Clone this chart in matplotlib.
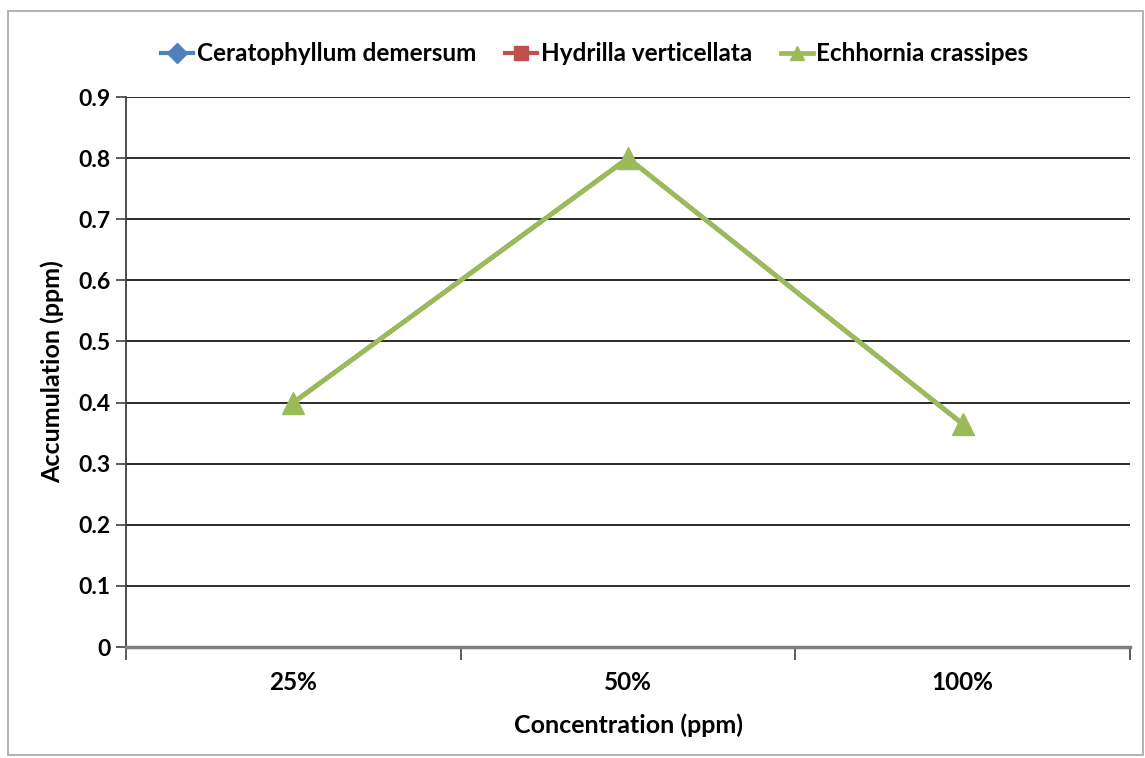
import matplotlib
matplotlib.use("Agg")
import matplotlib.pyplot as plt
import numpy as np

plt.rcParams['font.family'] = ['Lato', 'DejaVu Sans']
plt.rcParams['font.weight'] = 'bold'
plt.rcParams['axes.labelweight'] = 'bold'

categories = ["25%", "50%", "100%"]
ceratophyllum = [0.40, 0.80, 0.365]
hydrilla = [0.40, 0.80, 0.365]
echhornia = [0.40, 0.80, 0.365]

fig = plt.figure(figsize=(11.45, 7.58), dpi=100)
ax = fig.add_axes([0.110, 0.1464, 0.877, 0.7256])

# chart area border
fig.patches.append(plt.Rectangle((0.007, 0.004), 0.991, 0.982, transform=fig.transFigure,
                                 fill=False, edgecolor="#a6a6a6", linewidth=1.2))

x = np.arange(len(categories)) + 0.5
ax.plot(x, ceratophyllum, color="#4F81BD", lw=3, marker="D", ms=5, zorder=3,
        label="Ceratophyllum demersum")
ax.plot(x, hydrilla, color="#C0504D", lw=3, marker="s", ms=5, zorder=3,
        label="Hydrilla verticellata")
ax.plot(x, echhornia, color="#9BBB59", lw=3.4, marker="^", ms=16, zorder=4,
        label="Echhornia crassipes")

ax.set_xlim(0, 3)
ax.set_ylim(0, 0.9)
ax.set_yticks(np.arange(0, 0.91, 0.1))
ax.set_yticklabels(["0"] + ["%.1f" % v for v in np.arange(0.1, 0.91, 0.1)], fontsize=16.5)
ax.set_xticks([0, 1, 2, 3])
ax.set_xticklabels([])
ax.set_xticks(x, minor=True)
ax.set_xticklabels(categories, minor=True, fontsize=17.5)
ax.tick_params(axis="x", which="minor", length=0, pad=17)
ax.tick_params(axis="x", which="major", length=9, width=1.2, color="#404040")
ax.tick_params(axis="y", length=7, width=1.2, color="#404040", pad=4)

ax.grid(axis="y", color="#1a1a1a", lw=1.3)
ax.set_axisbelow(True)
for s in ["top", "right"]:
    ax.spines[s].set_visible(False)
ax.spines["left"].set_color("#404040")
ax.spines["left"].set_linewidth(1.3)
ax.spines["bottom"].set_color("#7f7f7f")
ax.spines["bottom"].set_linewidth(2.5)

ax.set_xlabel("Concentration (ppm)", fontsize=18, labelpad=14)
ax.set_ylabel("Accumulation (ppm)", fontsize=18, labelpad=10)

leg = ax.legend(loc="lower center", bbox_to_anchor=(0.467, 1.0), ncol=3, frameon=False,
                fontsize=17.5, handlelength=1.3, handletextpad=0.15, columnspacing=1.2,
                borderaxespad=0.9)
for h in leg.legend_handles:
    h.set_markersize(10)

fig.savefig("out.png", dpi=100)
